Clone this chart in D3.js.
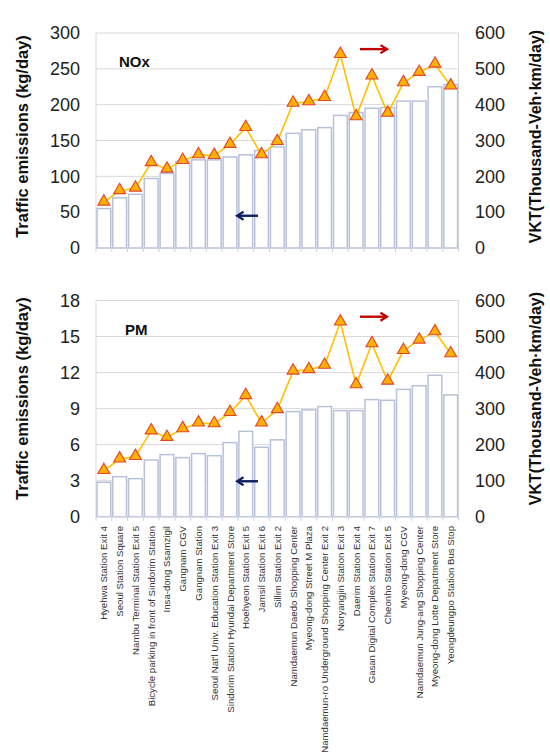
<!DOCTYPE html>
<html>
<head>
<meta charset="utf-8">
<script src="https://cdnjs.cloudflare.com/ajax/libs/d3/7.8.5/d3.min.js"></script>
<style>
  body { margin: 0; background: #fff; }
  svg { font-family: "Liberation Sans", Arial, sans-serif; }
</style>
</head>
<body>
<svg id="chart" width="550" height="754"></svg>
<script>
// sites along the x axis
var sites = [
  "Hyehwa Station Exit 4",
  "Seoul Station Square",
  "Nambu Terminal Station Exit 5",
  "Bicycle parking in front of Sindorim Station",
  "Insa-dong Ssamzigil",
  "Gangnam CGV",
  "Gangnam Station",
  "Seoul Nat'l Univ. Education Station Exit 3",
  "Sindorim Station Hyundai Department Store",
  "Hoehyeon Station Exit 5",
  "Jamsil Station Exit 6",
  "Sillim Station Exit 2",
  "Namdaemun Daedo Shopping Center",
  "Myeong-dong Street M Plaza",
  "Namdaemun-ro Underground Shopping Center Exit 2",
  "Noryangjin Station Exit 3",
  "Daerim Station Exit 4",
  "Gasan Digital Complex Station Exit 7",
  "Cheonho Station Exit 5",
  "Myeong-dong CGV",
  "Namdaemun Jung-ang Shopping Center",
  "Myeong-dong Lotte Department Store",
  "Yeongdeungpo Station Bus Stop"
];

// emissions (kg/day), bars on the left axis
var nox = [55, 70, 75, 97, 104, 121, 123, 123, 127, 130, 136, 141, 160, 165, 168, 185, 189, 195, 196, 205, 205, 225, 228];
var pm  = [2.87, 3.33, 3.17, 4.72, 5.17, 4.92, 5.25, 5.08, 6.17, 7.11, 5.78, 6.4, 8.75, 8.89, 9.17, 8.83, 8.83, 9.75, 9.69, 10.6, 10.9, 11.78, 10.14];

// VKT (thousand veh-km/day), line on the right axis
var vkt = [128, 160, 167, 238, 220, 244, 260, 258, 289, 336, 260, 297, 404, 408, 420, 540, 366, 480, 376, 461, 490, 513, 452];

// tick labels
var noxTicks = [0, 50, 100, 150, 200, 250, 300];
var pmTicks = [0, 3, 6, 9, 12, 15, 18];
var vktTicks = [0, 100, 200, 300, 400, 500, 600];

var svg = d3.select("#chart");

var x = d3.scaleBand()
  .domain(sites)
  .range([96, 458.6])
  .paddingInner(0.13)
  .paddingOuter(0.065);

// arrow heads
var defs = svg.append("defs");
function arrowHead(id, color) {
  defs.append("marker")
    .attr("id", id)
    .attr("viewBox", "0 0 10 10")
    .attr("refX", 6).attr("refY", 5)
    .attr("markerWidth", 4.2).attr("markerHeight", 4.2)
    .attr("orient", "auto")
    .append("path")
      .attr("d", "M1.5,1 L8,5 L1.5,9")
      .attr("fill", "none")
      .attr("stroke", color)
      .attr("stroke-width", 2.2);
}
arrowHead("headBlue", "#0d1f5c");
arrowHead("headRed", "#c00000");

function panel(opts) {
  var y = d3.scaleLinear().domain([0, d3.max(opts.ticks)]).range([opts.bottom, opts.top]);
  var y2 = d3.scaleLinear().domain([0, 600]).range([opts.bottom, opts.top]);
  var g = svg.append("g");

  // gridlines
  g.selectAll(".grid")
    .data(opts.ticks.slice(1))
    .enter()
    .append("line")
      .attr("x1", x.range()[0])
      .attr("x2", x.range()[1])
      .attr("y1", function(d){ return y(d) })
      .attr("y2", function(d){ return y(d) })
      .attr("stroke", "#d9d9d9")
      .attr("stroke-width", 1);

  // left and right axis lines
  g.append("line")
    .attr("x1", x.range()[0]).attr("x2", x.range()[0])
    .attr("y1", opts.top).attr("y2", opts.bottom)
    .attr("stroke", "#d9d9d9");
  g.append("line")
    .attr("x1", x.range()[1]).attr("x2", x.range()[1])
    .attr("y1", opts.top).attr("y2", opts.bottom)
    .attr("stroke", "#d9d9d9");

  // bars
  g.selectAll(".bar")
    .data(opts.values)
    .enter()
    .append("rect")
      .attr("x", function(d, i){ return x(sites[i]) })
      .attr("y", function(d){ return y(d) })
      .attr("width", x.bandwidth())
      .attr("height", function(d){ return opts.bottom - y(d) })
      .attr("fill", "#fff")
      .attr("stroke", "#b7c1da")
      .attr("stroke-width", 1.5);

  // x axis line and ticks at band edges
  g.append("line")
    .attr("x1", x.range()[0]).attr("x2", x.range()[1])
    .attr("y1", opts.bottom).attr("y2", opts.bottom)
    .attr("stroke", "#c9d0e2");
  var step = x.step();
  g.selectAll(".xtick")
    .data(d3.range(sites.length + 1))
    .enter()
    .append("line")
      .attr("x1", function(i){ return x.range()[0] + i * step })
      .attr("x2", function(i){ return x.range()[0] + i * step })
      .attr("y1", opts.bottom).attr("y2", opts.bottom + 4)
      .attr("stroke", "#c9d0e2");

  // VKT line + triangles
  var line = d3.line()
    .x(function(d, i){ return x(sites[i]) + x.bandwidth() / 2 })
    .y(function(d){ return y2(d) });
  g.append("path")
    .datum(vkt)
    .attr("d", line)
    .attr("fill", "none")
    .attr("stroke", "#ffc000")
    .attr("stroke-width", 1.6);
  g.selectAll(".tri")
    .data(vkt)
    .enter()
    .append("path")
      .attr("d", d3.symbol().type(d3.symbolTriangle).size(62))
      .attr("transform", function(d, i){
        return "translate(" + (x(sites[i]) + x.bandwidth() / 2) + "," + (y2(d) - 0.5) + ")";
      })
      .attr("fill", "#ffb000")
      .attr("stroke", "#e0452a")
      .attr("stroke-width", 1.1);

  // left tick labels
  g.selectAll(".ly")
    .data(opts.ticks)
    .enter()
    .append("text")
      .attr("x", 80)
      .attr("y", function(d){ return y(d) })
      .attr("dy", "0.35em")
      .attr("text-anchor", "end")
      .attr("font-size", 18)
      .attr("fill", "#222")
      .text(function(d){ return d });

  // right tick labels
  g.selectAll(".ry")
    .data(vktTicks)
    .enter()
    .append("text")
      .attr("x", 475)
      .attr("y", function(d){ return y2(d) })
      .attr("dy", "0.35em")
      .attr("text-anchor", "start")
      .attr("font-size", 18)
      .attr("fill", "#222")
      .text(function(d){ return d });

  // axis titles
  var mid = (opts.top + opts.bottom) / 2 + opts.titleShift;
  g.append("text")
    .attr("transform", "translate(28," + mid + ") rotate(-90)")
    .attr("text-anchor", "middle")
    .attr("font-size", 16.5)
    .attr("font-weight", "bold")
    .attr("fill", "#111")
    .text("Traffic emissions (kg/day)");
  g.append("text")
    .attr("transform", "translate(541," + mid + ") rotate(-90)")
    .attr("text-anchor", "middle")
    .attr("font-size", 16)
    .attr("font-weight", "bold")
    .attr("fill", "#111")
    .text("VKT(Thousand-Veh\u00b7km/day)");

  // panel name
  g.append("text")
    .attr("x", opts.labelX)
    .attr("y", opts.top + 34)
    .attr("font-size", 15)
    .attr("font-weight", "bold")
    .attr("fill", "#111")
    .text(opts.name);

  // arrows: emissions <- left, VKT -> right
  var ya = y(opts.arrowAt);
  g.append("line")
    .attr("x1", 258).attr("x2", 239)
    .attr("y1", ya).attr("y2", ya)
    .attr("stroke", "#0d1f5c")
    .attr("stroke-width", 2.4)
    .attr("marker-end", "url(#headBlue)");
  var yr = y2(555);
  g.append("line")
    .attr("x1", 360).attr("x2", 385)
    .attr("y1", yr).attr("y2", yr)
    .attr("stroke", "#c00000")
    .attr("stroke-width", 2.4)
    .attr("marker-end", "url(#headRed)");
}

panel({ top: 33, bottom: 248, ticks: noxTicks, values: nox, name: "NOx", labelX: 119, arrowAt: 45, titleShift: -4 });
panel({ top: 300.5, bottom: 516.7, ticks: pmTicks, values: pm, name: "PM", labelX: 125, arrowAt: 2.95, titleShift: -10 });

// site labels under the lower panel
svg.selectAll(".xl")
  .data(sites)
  .enter()
  .append("text")
    .attr("transform", function(d){
      return "translate(" + (x(d) + x.bandwidth() / 2 + 3.5) + ",526) rotate(-90)";
    })
    .attr("text-anchor", "end")
    .attr("font-size", 9.6)
    .attr("fill", "#333")
    .text(function(d){ return d });
</script>
</body>
</html>
